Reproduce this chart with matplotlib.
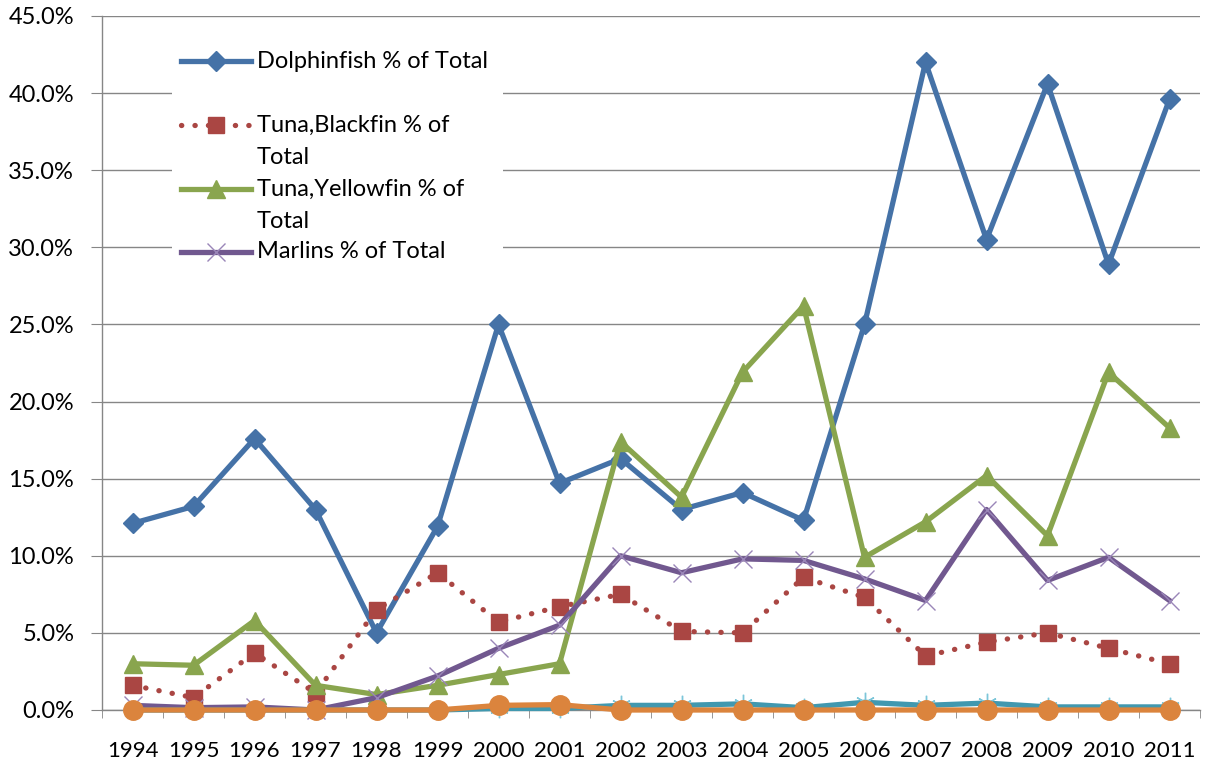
import numpy as np
import matplotlib.pyplot as plt
from matplotlib.patches import Rectangle
from matplotlib.ticker import FuncFormatter, FixedLocator

plt.rcParams['font.family'] = ['Lato', 'DejaVu Sans']

years = [str(y) for y in range(1994, 2012)]

dolphinfish = [12.1, 13.2, 17.6, 13.0, 5.0, 11.9, 25.0, 14.7, 16.3, 13.0, 14.1, 12.3, 25.0, 42.0, 30.5, 40.6, 28.9, 39.6]
blackfin = [1.6, 0.8, 3.7, 1.1, 6.5, 8.9, 5.7, 6.7, 7.5, 5.1, 5.0, 8.6, 7.3, 3.5, 4.4, 5.0, 4.0, 3.0]
yellowfin = [3.0, 2.9, 5.8, 1.6, 1.0, 1.6, 2.3, 3.0, 17.4, 13.8, 21.9, 26.2, 9.9, 12.2, 15.2, 11.3, 21.9, 18.3]
marlins = [0.3, 0.15, 0.2, 0.0, 0.8, 2.2, 4.0, 5.5, 10.0, 8.9, 9.8, 9.7, 8.5, 7.1, 13.0, 8.4, 9.9, 7.1]
other_a = [0.0, 0.0, 0.0, 0.0, 0.0, 0.0, 0.1, 0.1, 0.3, 0.3, 0.4, 0.15, 0.5, 0.3, 0.45, 0.2, 0.2, 0.2]
other_b = [0.0, 0.0, 0.0, 0.0, 0.0, 0.0, 0.3, 0.35, 0.0, 0.0, 0.0, 0.0, 0.0, 0.0, 0.0, 0.0, 0.0, 0.0]

legend_labels = ["Dolphinfish % of Total", "Tuna,Blackfin % of\nTotal",
                 "Tuna,Yellowfin % of\nTotal", "Marlins % of Total"]

c_blue = "#4572A7"
c_red = "#AA4643"
c_green = "#89A54E"
c_purple = "#71588F"
c_cyan = "#4198AF"
c_orange = "#DB843D"

fig = plt.figure(figsize=(12.06, 7.68), dpi=100)
W, H = 1206, 768
ax = fig.add_axes([102 / W, 58 / H, 1098 / W, 694 / H])

x = np.arange(len(years))
dots = (0, (0.05, 2.5))

styles = [
    dict(data=dolphinfish, color=c_blue, ls='-', marker='D', ms=10, mfc=c_blue, mec=c_blue, mew=1),
    dict(data=blackfin, color=c_red, ls=dots, marker='s', ms=12, mfc=c_red, mec=c_red, mew=1),
    dict(data=yellowfin, color=c_green, ls='-', marker='^', ms=13, mfc=c_green, mec=c_green, mew=1),
    dict(data=marlins, color=c_purple, ls='-', marker='x', ms=13, mfc=c_purple, mec='#9a86b8', mew=1),
    dict(data=other_a, color=c_cyan, ls='-', marker=(6, 2, 0), ms=14, mfc=c_cyan, mec='#7cc6d9', mew=1),
    dict(data=other_b, color=c_orange, ls='-', marker='o', ms=14, mfc=c_orange, mec=c_orange, mew=1),
]
for z, s in enumerate(styles):
    ax.plot(x, s['data'], color=s['color'], ls=s['ls'], lw=3.8, marker=s['marker'], ms=s['ms'],
            mfc=s['mfc'], mec=s['mec'], mew=s['mew'], dash_capstyle='round',
            solid_joinstyle='round', clip_on=False, zorder=3 + z)

ax.set_xlim(-0.5, len(years) - 0.5)
ax.set_ylim(0, 45)
ax.set_yticks(np.arange(0, 46, 5))
ax.yaxis.set_major_formatter(FuncFormatter(lambda v, p: f"{v:.1f}%"))
ax.set_xticks(x)
ax.set_xticklabels(years)
ax.xaxis.set_minor_locator(FixedLocator(np.arange(-0.5, len(years), 1)))
ax.tick_params(axis='x', which='major', length=0, pad=22, labelsize=16)
ax.tick_params(axis='x', which='minor', length=6, color='#868686', direction='out')
ax.tick_params(axis='y', length=8, color='#868686', labelsize=17, pad=12)

ax.grid(axis='y', color='#868686', lw=1, zorder=0)
for sp in ['top', 'right']:
    ax.spines[sp].set_visible(False)
for sp in ['left', 'bottom']:
    ax.spines[sp].set_color('#868686')
    ax.spines[sp].set_linewidth(1)


def px(xp, yp):
    return ((xp - 102) / 1098, (710 - yp) / 694)


# legend drawn by hand (Excel-style, handle aligned to first line)
bx0, by0 = px(172, 272)
bx1, by1 = px(503, 38)
ax.add_patch(Rectangle((bx0, by0), bx1 - bx0, by1 - by0, transform=ax.transAxes,
                       facecolor='white', edgecolor='none', zorder=10))
rows = [61, 125, 189, 252]
for s, lab, yp in zip(styles[:4], legend_labels, rows):
    xa, ya = px(181, yp)
    xb, _ = px(251, yp)
    xm, _ = px(216, yp)
    ax.plot([xa, xb], [ya, ya], transform=ax.transAxes, color=s['color'], ls=s['ls'], lw=3.8,
            dash_capstyle='round', zorder=11, clip_on=False)
    ax.plot([xm], [ya], transform=ax.transAxes, marker=s['marker'], ms=s['ms'], mfc=s['mfc'],
            mec=s['mec'], mew=s['mew'], ls='none', zorder=12, clip_on=False)
    for i, line in enumerate(lab.split("\n")):
        xt, yt = px(257, yp + 32 * i)
        ax.text(xt, yt, line, transform=ax.transAxes, va='center', ha='left',
                fontsize=17, zorder=13)

fig.savefig("out.png", dpi=100)
